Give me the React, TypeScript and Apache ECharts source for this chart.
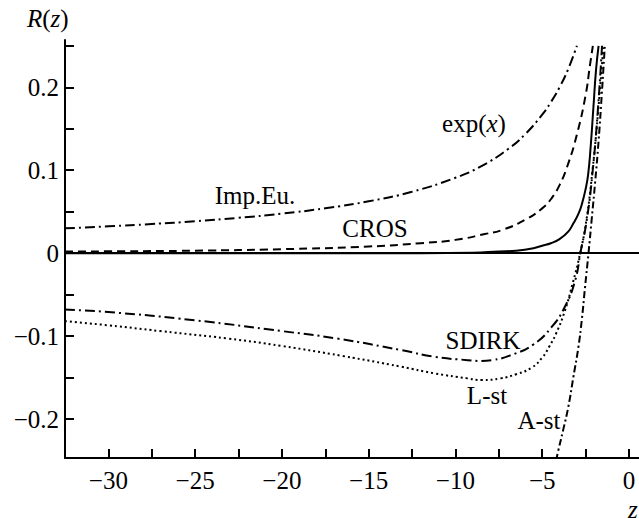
import React, { useEffect, useRef } from 'react';
import * as echarts from 'echarts';

// ---- data ----
const impEuZ = [-32.5, -30, -27.5, -25, -22.5, -20, -17.5, -15, -12.5, -10, -8.5, -7, -6, -5, -4.5, -4, -3.5, -3.0];
const impEuR = [0.0299, 0.0323, 0.0351, 0.0385, 0.0426, 0.0476, 0.0541, 0.0625, 0.0741, 0.0909, 0.105, 0.125, 0.143, 0.167, 0.182, 0.2, 0.222, 0.25];

const crosZ = [-32.5, -30, -25, -20, -15, -12, -10, -8.3, -7.3, -6, -5, -4.5, -4, -3.5, -3, -2.5, -2.25, -2.08];
const crosR = [0.002, 0.0022, 0.003, 0.0048, 0.008, 0.012, 0.016, 0.023, 0.028, 0.04, 0.054, 0.065, 0.082, 0.108, 0.143, 0.19, 0.226, 0.25];

const expZ = [-32.5, -20, -12, -9, -7.5, -6.5, -5.5, -5, -4.5, -4, -3.5, -3.2, -2.9, -2.7, -2.5, -2.35, -2.2, -2.05, -1.9, -1.75];
const expR = [0, 0, 0, 0.0005, 0.002, 0.003, 0.006, 0.009, 0.012, 0.017, 0.026, 0.036, 0.048, 0.06, 0.077, 0.095, 0.13, 0.175, 0.22, 0.25];

const sdirkZ = [-32.5, -30, -25, -20, -16.8, -13.1, -11.2, -9.3, -8.5, -7.9, -6.8, -5.5, -4.45, -3.7, -3.1, -2.8, -2.43, -2.1, -1.8, -1.55];
const sdirkR = [-0.068, -0.071, -0.081, -0.094, -0.103, -0.117, -0.125, -0.129, -0.13, -0.129, -0.123, -0.11, -0.089, -0.065, -0.033, 0, 0.04, 0.097, 0.17, 0.25];

const lstZ = [-32.5, -30, -27, -23.1, -20, -16.5, -13.1, -11.2, -9.3, -8.5, -7.4, -6.5, -5.6, -5, -4.6, -4.2, -3.7, -3.25, -2.81, -2.45, -2.1, -1.8, -1.47];
const lstR = [-0.082, -0.087, -0.094, -0.103, -0.112, -0.124, -0.137, -0.145, -0.151, -0.153, -0.151, -0.146, -0.138, -0.126, -0.113, -0.097, -0.07, -0.037, 0, 0.04, 0.1, 0.165, 0.25];

const astZ = [-4.2, -4.06, -3.8, -3.49, -3.2, -2.91, -2.72, -2.53, -2.33, -2.15, -1.95, -1.75, -1.57, -1.39];
const astR = [-0.25, -0.237, -0.214, -0.185, -0.149, -0.113, -0.081, -0.041, 0, 0.04, 0.085, 0.135, 0.19, 0.25];

const xTicks = [-30, -27.5, -25, -22.5, -20, -17.5, -15, -12.5, -10, -7.5, -5, -2.5, 0];
const xLabels = [-30, -25, -20, -15, -10, -5, 0];
const yTicks = [-0.2, -0.15, -0.1, -0.05, 0, 0.05, 0.1, 0.15, 0.2, 0.25];
const yLabels = [-0.2, -0.1, 0, 0.1, 0.2];

const FONT = 'Liberation Serif';
const FS = 25;

const pairs = (zs: number[], rs: number[]) => zs.map((z, i) => [z, rs[i]]);

export default function App() {
  const ref = useRef<HTMLDivElement>(null);
  useEffect(() => {
    if (!ref.current) return;
    const chart = echarts.init(ref.current, undefined, { renderer: 'svg' });
    const lineBase = (name: string, zs: number[], rs: number[], type: any, width = 2) => ({
      name,
      type: 'line',
      data: pairs(zs, rs),
      showSymbol: false,
      smooth: 0.5,
      clip: true,
      lineStyle: { color: '#000', width, type },
      z: 3,
    });
    const rich = {
      i: { fontFamily: FONT, fontSize: FS, fontStyle: 'italic', color: '#000' },
      n: { fontFamily: FONT, fontSize: FS, color: '#000' },
    };
    const txt = (text: string, x: number, y: number) => ({
      type: 'text', x, y,
      style: { text: '{n|' + text + '}', rich, align: 'center', verticalAlign: 'middle' },
    });
    const option: any = {
      animation: false,
      backgroundColor: '#fff',
      textStyle: { fontFamily: FONT },
      grid: { left: 65, top: 40, width: 574, height: 418, outerBoundsMode: 'none' },
      xAxis: {
        type: 'value',
        min: -32.5,
        max: 0.58,
        splitLine: { show: false },
        axisLine: { onZero: false, lineStyle: { color: '#000', width: 2 } },
        axisTick: { inside: true, length: 9, lineStyle: { color: '#000', width: 2 }, customValues: xTicks },
        axisLabel: {
          customValues: xLabels,
          margin: 10,
          formatter: (v: number) => '{n|' + (v === 0 ? '0' : '\u2212' + Math.abs(v)) + '}',
          rich,
        },
      },
      yAxis: {
        type: 'value',
        min: -0.247,
        max: 0.257,
        splitLine: { show: false },
        axisLine: { onZero: false, lineStyle: { color: '#000', width: 2 } },
        axisTick: { inside: true, length: 9, lineStyle: { color: '#000', width: 2 }, customValues: yTicks },
        axisLabel: {
          customValues: yLabels,
          margin: 6,
          formatter: (v: number) => {
            const s = Math.abs(v) < 1e-9 ? '0' : (v < 0 ? '\u2212' : '') + Math.abs(v).toFixed(1);
            return '{n|' + s + '}';
          },
          rich,
        },
      },
      series: [
        {
          ...lineBase('Imp.Eu.', impEuZ, impEuR, [10, 4, 2, 4]),
          markLine: {
            silent: true,
            symbol: ['none', 'none'],
            label: { show: false },
            lineStyle: { color: '#000', width: 2, type: 'solid' },
            data: [{ yAxis: 0 }],
          },
        },
        lineBase('CROS', crosZ, crosR, [8, 5]),
        lineBase('exp', expZ, expR, 'solid'),
        lineBase('SDIRK', sdirkZ, sdirkR, [10, 4, 2, 4]),
        lineBase('L-st', lstZ, lstR, [2, 3]),
        lineBase('A-st', astZ, astR, [7, 3, 2, 3]),
      ],
      graphic: [
        {
          type: 'text', left: 27, top: 6,
          style: { text: '{i|R}{n|(}{i|z}{n|)}', rich },
        },
        {
          type: 'text', x: 474, y: 123,
          style: { text: '{n|exp(}{i|x}{n|)}', rich, align: 'center', verticalAlign: 'middle' },
        },
        txt('Imp.Eu.', 255, 195),
        txt('CROS', 375, 228),
        txt('SDIRK', 483, 340),
        txt('L-st', 487, 395),
        txt('A-st', 539, 420),
        {
          type: 'text', x: 628, y: 497,
          style: { text: '{i|z}', rich },
        },
      ],
    };
    chart.setOption(option);
    return () => chart.dispose();
  }, []);
  return (
    <div
      ref={ref}
      style={{ position: 'fixed', left: 0, top: 0, width: 639, height: 518, background: '#fff' }}
    />
  );
}
